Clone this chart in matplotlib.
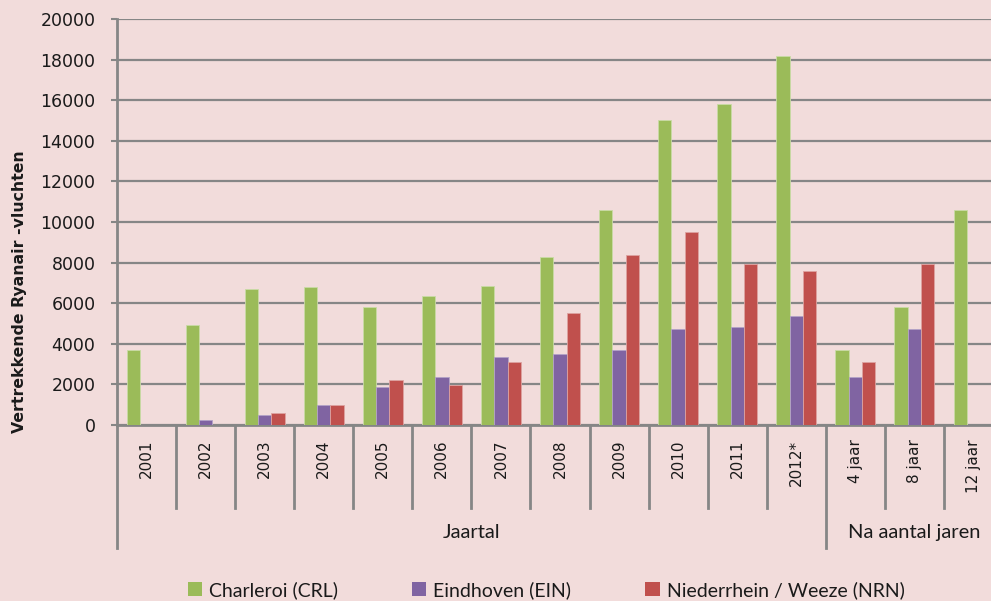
import matplotlib
matplotlib.use("Agg")
import numpy as np
import matplotlib.pyplot as plt
from matplotlib.patches import Patch

categories = ["2001", "2002", "2003", "2004", "2005", "2006", "2007", "2008",
              "2009", "2010", "2011", "2012*", "4 jaar", "8 jaar", "12 jaar"]
charleroi = [3700, 4950, 6700, 6800, 5800, 6350, 6850, 8300,
             10600, 15000, 15800, 18200, 3700, 5800, 10600]
eindhoven = [0, 250, 500, 1000, 1850, 2350, 3350, 3500,
             3700, 4750, 4850, 5350, 2350, 4750, 0]
weeze = [0, 0, 600, 1000, 2200, 1950, 3100, 5500,
         8350, 9500, 7950, 7600, 3100, 7950, 0]
series_names = ["Charleroi (CRL)", "Eindhoven (EIN)", "Niederrhein / Weeze (NRN)"]
groups = [("Jaartal", 0, 11), ("Na aantal jaren", 12, 14)]

bg = "#F2DCDB"
colors = ["#9BBB59", "#8064A2", "#C0504D"]
edges = ["#C9DBA6", "#B3A2C7", "#DDA3A1"]
grid_col = "#868686"
narrow = ["Lato", "DejaVu Sans"]
plt.rcParams["font.family"] = ["DejaVu Sans"]

fig = plt.figure(figsize=(9.91, 6.01), dpi=100, facecolor=bg)
ax = fig.add_axes([117 / 991, 176 / 601, 886 / 991, 406 / 601])
ax.set_facecolor(bg)

x = np.arange(len(categories))
w = 0.225
for k, vals in enumerate([charleroi, eindhoven, weeze]):
    lw = [0.6 if v else 0 for v in vals]
    ax.bar(x + (k - 1) * w, vals, w, color=colors[k], edgecolor=edges[k],
           linewidth=lw, zorder=3)

ax.set_xlim(-0.5, len(categories) - 0.5)
ax.set_ylim(0, 20000)
ax.set_yticks(np.arange(0, 20001, 2000))
ax.yaxis.grid(True, color=grid_col, linewidth=1.6, zorder=0)
ax.set_axisbelow(True)
ax.tick_params(axis="y", direction="out", length=4.5, width=1.5, color=grid_col,
               labelsize=12.5, pad=11, labelcolor="#1a1a1a")
ax.set_xticks([])
for s in ["top", "right"]:
    ax.spines[s].set_visible(False)
ax.spines["left"].set_color(grid_col)
ax.spines["left"].set_linewidth(2)
ax.spines["bottom"].set_color(grid_col)
ax.spines["bottom"].set_linewidth(2)

# category labels and separators below the axis
trans = ax.get_xaxis_transform()
for i, lab in enumerate(categories):
    ax.text(i, -0.036, lab, rotation=90, ha="center", va="top", fontsize=11,
            color="#1a1a1a", transform=trans)
long_seps = {g[1] - 0.5 for g in groups} | {groups[-1][2] + 0.5}
for i in range(len(categories) + 1):
    xs = i - 0.5
    y_end = -0.303 if xs in long_seps else -0.204
    ax.plot([xs, xs], [0, y_end], color=grid_col, lw=2, transform=trans,
            clip_on=False, zorder=4)
for name, a, b in groups:
    ax.text((a + b) / 2, -0.265, name, ha="center", va="center", fontsize=14.5,
            family=narrow, color="#1a1a1a", transform=trans)

fig.text(20 / 991, 1 - 292 / 601, "Vertrekkende Ryanair -vluchten", rotation=90,
         ha="center", va="center", fontsize=11.3, fontweight="bold", color="#1a1a1a")

handles = [Patch(facecolor=c) for c in colors]
fig.legend(handles, series_names, loc="center", bbox_to_anchor=(546 / 991, 1 - 590 / 601),
           ncol=3, frameon=False, handlelength=0.75, handleheight=0.75, handletextpad=0.35,
           columnspacing=3.8, prop={"family": narrow, "size": 14}, labelcolor="#1a1a1a")

fig.savefig("out.png", dpi=100, facecolor=bg)
